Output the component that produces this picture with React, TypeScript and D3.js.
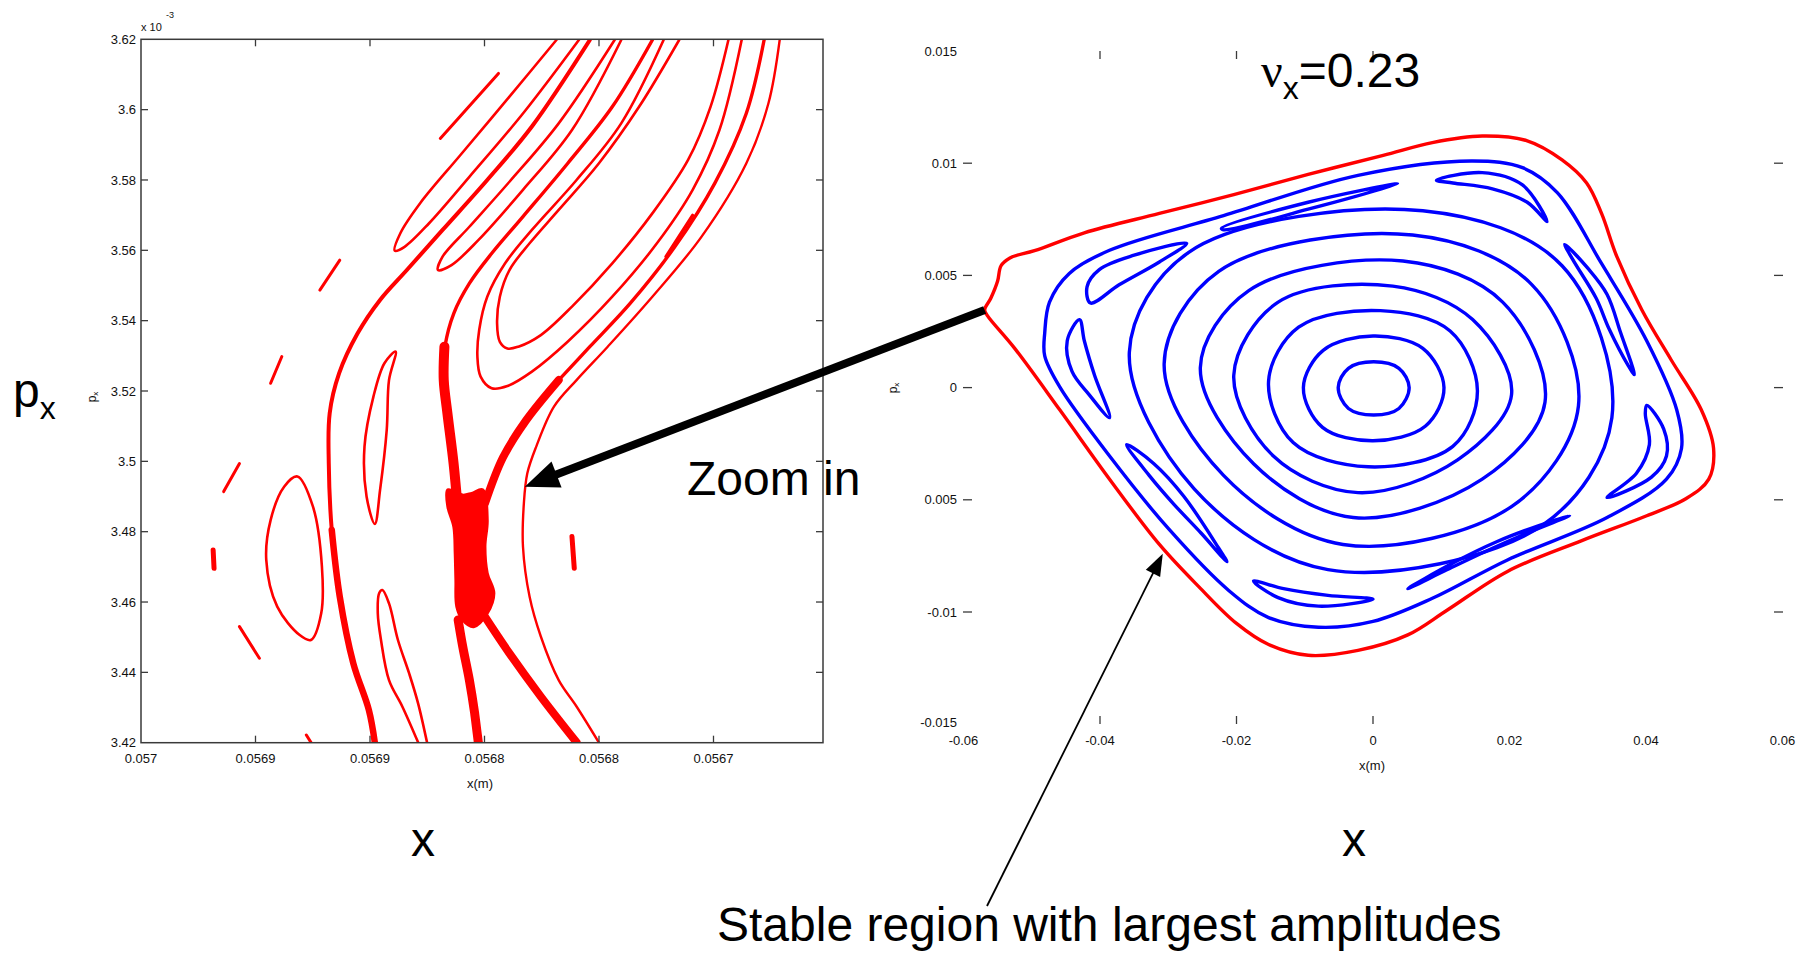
import React from "react";
import * as d3 from "d3";

type Pt = [number, number];

const W = 1814;
const H = 954;

// ---------- Left panel: magnified section of the phase space ----------
// x in mm, p_x in units of 1e-3
const zoomXTicks = [57.0, 56.95, 56.9, 56.85, 56.8, 56.75];
const zoomXTickLabels = ["0.057", "0.0569", "0.0569", "0.0568", "0.0568", "0.0567"];
const zoomYTicks = [3.62, 3.6, 3.58, 3.56, 3.54, 3.52, 3.5, 3.48, 3.46, 3.44, 3.42];
const zoomYTickLabels = ["3.62", "3.6", "3.58", "3.56", "3.54", "3.52", "3.5", "3.48", "3.46", "3.44", "3.42"];

// short island fragments
const fragA: Pt[] = [[56.8693, 3.5918], [56.8566, 3.601], [56.8439, 3.6103]];
const fragB: Pt[] = [[56.9219, 3.5487], [56.9132, 3.5572]];
const fragC: Pt[] = [[56.9434, 3.5222], [56.9385, 3.5298]];
const fragD: Pt[] = [[56.7708, 3.5582], [56.7591, 3.57]];
const fragE: Pt[] = [[56.9639, 3.4914], [56.957, 3.4994]];
const fragF: Pt[] = [[56.9685, 3.4748], [56.9681, 3.4696]];
const fragG: Pt[] = [[56.957, 3.453], [56.9483, 3.444]];
const fragH: Pt[] = [[56.9278, 3.4222], [56.9258, 3.4201]];
const fragI: Pt[] = [[56.8118, 3.4786], [56.8108, 3.4696]];

// folded lobes of the manifolds
const lobe1: Pt[] = [
  [56.8186, 3.6198], [56.8391, 3.6037], [56.8605, 3.5871], [56.8781, 3.5734], [56.8868, 3.5648],
  [56.8892, 3.5599], [56.8849, 3.561], [56.8742, 3.5677], [56.8566, 3.5809], [56.8332, 3.5989], [56.8088, 3.6198],
];
const lobe2: Pt[] = [
  [56.7932, 3.6198], [56.8176, 3.5961], [56.8391, 3.5795], [56.8566, 3.5667], [56.8683, 3.5582],
  [56.8703, 3.5544], [56.8644, 3.5558], [56.8527, 3.5629], [56.8332, 3.5772], [56.8118, 3.5942], [56.7903, 3.6198],
];
const lobe3: Pt[] = [
  [56.765, 3.6198], [56.7825, 3.6008], [56.8001, 3.5847], [56.8176, 3.5715], [56.8303, 3.562], [56.8391, 3.5544],
  [56.8433, 3.5468], [56.8445, 3.5392], [56.8433, 3.534], [56.84, 3.5321], [56.8352, 3.5326], [56.8254, 3.5359],
  [56.8118, 3.544], [56.7942, 3.5563], [56.7767, 3.5705], [56.7611, 3.5857], [56.7513, 3.6008], [56.7435, 3.6198],
];
const lobe4: Pt[] = [
  [56.7718, 3.6198], [56.7903, 3.5961], [56.8098, 3.58], [56.8293, 3.5658], [56.841, 3.5563], [56.8488, 3.5468],
  [56.8523, 3.5374], [56.8531, 3.5298], [56.8517, 3.5241], [56.8469, 3.5208], [56.84, 3.5214], [56.8293, 3.5255],
  [56.8137, 3.534], [56.7942, 3.5468], [56.7747, 3.562], [56.7591, 3.5772], [56.7474, 3.5942], [56.7377, 3.6198],
];

// left branch of the separatrix
const sepLeft: Pt[] = [
  [56.8979, 3.4201], [56.9005, 3.4293], [56.9073, 3.4426], [56.9132, 3.4615], [56.9167, 3.4805], [56.918, 3.4994],
  [56.9176, 3.5137], [56.9135, 3.525], [56.9054, 3.5364], [56.8956, 3.5459], [56.8839, 3.5544], [56.8683, 3.5658],
  [56.8488, 3.58], [56.8293, 3.5952], [56.804, 3.6198],
];
// right orbit passing the hyperbolic point
const sepRight: Pt[] = [
  [56.8001, 3.4201], [56.8098, 3.4303], [56.8176, 3.4378], [56.8254, 3.4502], [56.8303, 3.4615], [56.8332, 3.4758],
  [56.8328, 3.4881], [56.8313, 3.4966], [56.8274, 3.5042], [56.8196, 3.5156], [56.8098, 3.5231], [56.7962, 3.5326],
  [56.7767, 3.5468], [56.7552, 3.5639], [56.7357, 3.5847], [56.726, 3.6018], [56.7211, 3.6198],
];

// arms of the chaotic layer around the hyperbolic point
const armUpperLeftInner: Pt[] = [[56.8615, 3.4852], [56.8635, 3.4994], [56.8662, 3.5137], [56.8678, 3.5231], [56.8675, 3.5326]];
const armUpperLeftOuter: Pt[] = [
  [56.8683, 3.5231], [56.8673, 3.5326], [56.8634, 3.5421], [56.8566, 3.5506], [56.8469, 3.5591],
  [56.8332, 3.5696], [56.8137, 3.5847], [56.7942, 3.6008], [56.7767, 3.6198],
];
const armUpperRightInner: Pt[] = [[56.8498, 3.488], [56.842, 3.501], [56.832, 3.5115], [56.8176, 3.5231]];
const armUpperRightOuter: Pt[] = [
  [56.8176, 3.5231], [56.804, 3.5326], [56.7864, 3.5449], [56.7669, 3.561], [56.7494, 3.5791], [56.7357, 3.5989], [56.7279, 3.6198],
];
const armLowerLeft: Pt[] = [[56.8615, 3.4549], [56.8595, 3.4473], [56.8566, 3.4378], [56.8543, 3.4284], [56.8527, 3.4201]];
const armLowerRight: Pt[] = [[56.8508, 3.4568], [56.8391, 3.4454], [56.8254, 3.4331], [56.8098, 3.4201]];
const chaoticCore: Pt[] = [
  [56.866, 3.4919], [56.8595, 3.4904], [56.8556, 3.4909], [56.8508, 3.4919], [56.8488, 3.4833], [56.8498, 3.4758],
  [56.8488, 3.4682], [56.8459, 3.4625], [56.8488, 3.4568], [56.8547, 3.453], [56.8595, 3.4549], [56.8621, 3.4587],
  [56.8625, 3.4663], [56.8628, 3.4739], [56.8634, 3.4814], [56.866, 3.4871],
];

// closed islands and the lower arch
const islandOval: Pt[] = [
  [56.9317, 3.4957], [56.9249, 3.4871], [56.921, 3.4701], [56.9213, 3.4568], [56.9258, 3.4492],
  [56.9307, 3.4506], [56.9405, 3.4587], [56.9453, 3.472], [56.9434, 3.4833], [56.9375, 3.4928],
];
const islandThin: Pt[] = [
  [56.8888, 3.5312], [56.8917, 3.5231], [56.8927, 3.5089], [56.8956, 3.4919], [56.8979, 3.4822],
  [56.9015, 3.49], [56.9024, 3.5042], [56.8985, 3.5184], [56.8937, 3.5279],
];
const lowerArch: Pt[] = [
  [56.879, 3.4201], [56.8859, 3.4303], [56.8917, 3.4378], [56.8952, 3.4492], [56.8966, 3.4568], [56.896, 3.4625],
  [56.8946, 3.4634], [56.8917, 3.4596], [56.8878, 3.4492], [56.8829, 3.4397], [56.879, 3.4312], [56.8751, 3.4201],
];

// ---------- Right panel: full phase space, nu_x = 0.23 ----------
// x in mm, p_x in mrad
const phaseXTicks = [-60, -40, -20, 0, 20, 40, 60];
const phaseXTickLabels = ["-0.06", "-0.04", "-0.02", "0", "0.02", "0.04", "0.06"];
const phaseYTicks = [15, 10, 5, 0, -5, -10, -15];
const phaseYTickLabels = ["0.015", "0.01", "0.005", "0", "0.005", "-0.01", "-0.015"];
const phaseYMarks = [10, 5, 0, -5, -10];
const phaseXMarks = [-40, -20, 0];

const lastStable: Pt[] = [
  [-56.9, 3.46], [-56.0, 3.98], [-55.0, 4.75], [-54.5, 5.43], [-53.2, 5.78], [-49.6, 6.1], [-42.3, 6.9],
  [-31.3, 7.76], [-20.4, 8.6], [-9.5, 9.5], [1.5, 10.35], [8.7, 10.92], [16.0, 11.21], [22.6, 11.0],
  [27.7, 10.15], [31.3, 9.12], [33.5, 7.75], [35.7, 5.86], [39.4, 3.46], [43.7, 1.23], [48.1, -0.99],
  [49.9, -2.71], [49.2, -4.08], [45.9, -4.94], [40.1, -5.71], [30.6, -6.82], [19.7, -8.19], [10.9, -9.91],
  [5.1, -11.02], [-2.2, -11.71], [-9.5, -11.93], [-15.3, -11.45], [-20.0, -10.51], [-25.5, -8.88],
  [-31.3, -6.99], [-38.6, -4.08], [-45.9, -0.99], [-52.5, 1.75], [-56.5, 3.21],
];

const orbit1: Pt[] = [[5.3, 0.0], [3.8, 0.86], [0.1, 1.15], [-3.6, 0.86], [-5.1, 0.0], [-3.6, -0.93], [0.1, -1.22], [3.8, -0.93]];
const orbit2: Pt[] = [[10.4, 0.0], [7.3, 1.75], [0.0, 2.3], [-7.3, 1.66], [-10.2, 0.0], [-7.4, -1.77], [0.0, -2.37], [7.7, -1.71]];
const orbit3: Pt[] = [[15.3, -0.14], [11.3, 2.52], [1.1, 3.43], [-10.9, 2.69], [-15.3, 0.29], [-11.7, -2.45], [-0.7, -3.53], [11.7, -2.62]];
const orbit4: Pt[] = [[20.3, -0.31], [14.6, 3.03], [2.9, 4.52], [-13.9, 3.81], [-20.4, 0.55], [-14.6, -3.05], [-2.2, -4.68], [12.4, -3.22]];
const orbit5: Pt[] = [[25.2, -0.65], [19.0, 3.81], [4.4, 5.64], [-18.2, 4.32], [-25.3, 0.89], [-17.5, -3.39], [-2.9, -5.79], [16.0, -4.08]];
const orbit6: Pt[] = [[30.1, -0.82], [23.3, 4.58], [5.8, 6.8], [-22.6, 5.18], [-30.6, 1.06], [-21.9, -3.91], [-4.4, -6.99], [20.4, -5.28]];
const orbit7: Pt[] = [[35.0, -1.34], [27.7, 5.43], [7.3, 7.88], [-27.0, 6.03], [-35.7, 1.58], [-26.2, -4.51], [-6.6, -8.11], [24.8, -6.14]];
const orbit8: Pt[] = [
  [-48.1, 2.43], [-47.4, 3.81], [-44.5, 5.09], [-38.6, 6.12], [-21.9, 7.66], [-2.2, 9.46], [14.6, 10.1],
  [21.9, 9.8], [27.0, 8.69], [33.5, 5.52], [40.1, 2.09], [44.5, -0.99], [45.2, -2.71], [43.0, -4.08],
  [34.3, -5.79], [19.7, -7.68], [8.7, -9.39], [0.0, -10.42], [-8.0, -10.68], [-15.3, -10.25],
  [-21.1, -9.05], [-29.9, -6.31], [-38.6, -3.05], [-45.9, 0.03], [-48.1, 1.41],
];

// resonance islands
const res1: Pt[] = [[-27.3, 6.43], [-35.0, 5.9], [-40.1, 5.26], [-41.9, 4.49], [-41.4, 3.77], [-37.2, 4.58], [-31.3, 5.6]];
const res2: Pt[] = [[-22.2, 7.1], [-9.5, 8.26], [3.6, 9.08], [-9.5, 7.95], [-21.9, 7.03]];
const res3: Pt[] = [[9.3, 9.24], [16.0, 9.58], [21.9, 9.03], [25.5, 7.4], [22.6, 8.26], [17.5, 8.86], [11.7, 9.12]];
const res4: Pt[] = [[28.1, 6.38], [31.5, 5.31], [34.3, 4.15], [36.3, 2.43], [38.3, 0.58], [37.4, 0.98], [34.6, 2.61], [32.7, 3.98], [29.3, 5.69]];
const res5: Pt[] = [[40.1, -0.79], [42.6, -1.85], [43.0, -3.05], [40.8, -3.99], [34.3, -4.9], [38.6, -3.82], [40.5, -2.54], [39.9, -1.17]];
const res6: Pt[] = [[28.8, -5.71], [23.3, -6.39], [17.5, -7.16], [10.9, -8.11], [5.1, -8.96], [11.7, -7.82], [18.2, -6.86], [24.1, -6.17]];
const res7: Pt[] = [[-17.5, -8.62], [-13.9, -9.36], [-8.0, -9.74], [0.0, -9.43], [-6.6, -9.26], [-13.1, -8.96]];
const res8: Pt[] = [[-36.1, -2.54], [-32.8, -3.91], [-29.2, -5.19], [-25.2, -6.48], [-21.4, -7.76], [-22.6, -7.16], [-27.7, -4.85], [-32.1, -3.39]];
const res9: Pt[] = [[-43.0, 3.03], [-44.8, 2.09], [-44.1, 0.72], [-41.6, -0.31], [-38.6, -1.34], [-40.8, 0.55], [-42.3, 2.09]];

// annotation anchors
const zoomArrowTip: Pt = [56.8324, 3.4928];
const stableArrowTip: Pt = [-30.8, -7.4];

const FONT = "'Liberation Sans', Arial, Helvetica, sans-serif";

function Arrow({ x1, y1, x2, y2, width, headLen, headHalf }: { x1: number; y1: number; x2: number; y2: number; width: number; headLen: number; headHalf: number }) {
  const dx = x2 - x1;
  const dy = y2 - y1;
  const len = Math.hypot(dx, dy);
  const ux = dx / len;
  const uy = dy / len;
  const nx = -uy;
  const ny = ux;
  const bx = x2 - ux * headLen;
  const by = y2 - uy * headLen;
  const lx = x2 - ux * (headLen * 0.85);
  const ly = y2 - uy * (headLen * 0.85);
  return (
    <g>
      <line x1={x1} y1={y1} x2={lx} y2={ly} stroke="#000" strokeWidth={width} />
      <polygon
        points={`${x2},${y2} ${bx + nx * headHalf},${by + ny * headHalf} ${bx - nx * headHalf},${by - ny * headHalf}`}
        fill="#000"
      />
    </g>
  );
}

export default function App() {
  // left panel scales
  const zx = d3.scaleLinear().domain([57.0, 56.70218]).range([141, 823]);
  const zy = d3.scaleLinear().domain([3.42, 3.62]).range([742.7, 39.3]);
  const zOpen = d3.line<Pt>().x((d) => zx(d[0])).y((d) => zy(d[1])).curve(d3.curveCatmullRom.alpha(0.5));
  const zClosed = d3.line<Pt>().x((d) => zx(d[0])).y((d) => zy(d[1])).curve(d3.curveCatmullRomClosed.alpha(0.5));

  // right panel scales
  const px = d3.scaleLinear().domain([-60, 60]).range([963.5, 1782.5]);
  const py = d3.scaleLinear().domain([-15, 15]).range([724.2, 51]);
  const pClosed = d3.line<Pt>().x((d) => px(d[0])).y((d) => py(d[1])).curve(d3.curveCatmullRomClosed.alpha(0.5));

  const zoomOpen: { d: Pt[]; w: number }[] = [
    { d: fragA, w: 3 }, { d: fragB, w: 3 }, { d: fragC, w: 3 }, { d: fragD, w: 3 }, { d: fragE, w: 3 },
    { d: fragF, w: 5 }, { d: fragG, w: 3 }, { d: fragH, w: 3 }, { d: fragI, w: 5 },
    { d: lobe1, w: 2.6 }, { d: lobe2, w: 2.6 }, { d: lobe3, w: 2.6 }, { d: lobe4, w: 2.6 },
    { d: sepLeft, w: 4 }, { d: sepLeft.slice(0, 5), w: 6.5 }, { d: sepRight, w: 2.4 },
    { d: armUpperLeftOuter, w: 3.4 }, { d: armUpperLeftInner, w: 10 },
    { d: armUpperRightOuter, w: 3.4 }, { d: armUpperRightInner, w: 8 },
    { d: armLowerLeft, w: 9 }, { d: armLowerRight, w: 8 },
    { d: lowerArch, w: 2.6 },
  ];
  const zoomClosed: Pt[][] = [islandOval, islandThin];

  const blueOrbits: Pt[][] = [orbit1, orbit2, orbit3, orbit4, orbit5, orbit6, orbit7, orbit8, res1, res2, res3, res4, res5, res6, res7, res8, res9];

  const tail: Pt = lastStable[0];
  const axisGray = "#3a3a3a";

  return (
    <svg width={W} height={H} viewBox={`0 0 ${W} ${H}`} style={{ position: "absolute", left: 0, top: 0, background: "#fff" }} fontFamily={FONT}>
      <rect x={0} y={0} width={W} height={H} fill="#fff" />

      {/* ---------- left panel ---------- */}
      <defs>
        <clipPath id="zoomClip">
          <rect x={141} y={39.3} width={682} height={703.4} />
        </clipPath>
      </defs>
      <g clipPath="url(#zoomClip)" fill="none" stroke="#ff0000" strokeLinecap="round" strokeLinejoin="round">
        {zoomOpen.map((c, i) => (
          <path key={`zo${i}`} d={zOpen(c.d) ?? ""} strokeWidth={c.w} />
        ))}
        {zoomClosed.map((c, i) => (
          <path key={`zc${i}`} d={zClosed(c) ?? ""} strokeWidth={2.6} />
        ))}
        <path d={zClosed(chaoticCore) ?? ""} fill="#ff0000" strokeWidth={3} />
      </g>
      <rect x={141} y={39.3} width={682} height={703.4} fill="none" stroke={axisGray} strokeWidth={1.5} />
      {zoomXTicks.map((t, i) => (
        <g key={`zxt${i}`}>
          {i > 0 && (
            <>
              <line x1={zx(t)} x2={zx(t)} y1={742.7} y2={735.7} stroke={axisGray} strokeWidth={1.3} />
              <line x1={zx(t)} x2={zx(t)} y1={39.3} y2={46.3} stroke={axisGray} strokeWidth={1.3} />
            </>
          )}
          <text x={zx(t)} y={763} textAnchor="middle" fontSize={13} fill="#111">{zoomXTickLabels[i]}</text>
        </g>
      ))}
      {zoomYTicks.map((t, i) => (
        <g key={`zyt${i}`}>
          {i > 0 && i < zoomYTicks.length - 1 && (
            <>
              <line x1={141} x2={148} y1={zy(t)} y2={zy(t)} stroke={axisGray} strokeWidth={1.3} />
              <line x1={823} x2={816} y1={zy(t)} y2={zy(t)} stroke={axisGray} strokeWidth={1.3} />
            </>
          )}
          <text x={136} y={zy(t)} dy="0.35em" textAnchor="end" fontSize={13} fill="#111">{zoomYTickLabels[i]}</text>
        </g>
      ))}
      <text x={141} y={31} fontSize={11} fill="#111">x 10</text>
      <text x={166} y={18} fontSize={9} fill="#111">-3</text>
      <text x={480} y={788} textAnchor="middle" fontSize={13} fill="#111">x(m)</text>
      <text transform="translate(96,397) rotate(-90)" textAnchor="middle" fontSize={12} fill="#111">
        p<tspan fontSize={8} dy={2}>x</tspan>
      </text>

      {/* ---------- right panel ---------- */}
      <path d={pClosed(lastStable) ?? ""} fill="none" stroke="#ff0000" strokeWidth={3.4} strokeLinejoin="round" />
      <g fill="none" stroke="#0000ff" strokeWidth={3.4} strokeLinejoin="round">
        {blueOrbits.map((o, i) => (
          <path key={`bo${i}`} d={pClosed(o) ?? ""} />
        ))}
      </g>
      {phaseYMarks.map((t, i) => (
        <g key={`pym${i}`}>
          <line x1={963} x2={972} y1={py(t)} y2={py(t)} stroke={axisGray} strokeWidth={1.3} />
          <line x1={1774} x2={1783} y1={py(t)} y2={py(t)} stroke={axisGray} strokeWidth={1.3} />
        </g>
      ))}
      {phaseXMarks.map((t, i) => (
        <g key={`pxm${i}`}>
          <line x1={px(t)} x2={px(t)} y1={51} y2={59} stroke={axisGray} strokeWidth={1.3} />
          <line x1={px(t)} x2={px(t)} y1={716} y2={724} stroke={axisGray} strokeWidth={1.3} />
        </g>
      ))}
      {phaseYTicks.map((t, i) => (
        <text key={`pyl${i}`} x={957} y={py(t) + (i === phaseYTicks.length - 1 ? -2 : 0)} dy="0.35em" textAnchor="end" fontSize={13} fill="#111">
          {phaseYTickLabels[i]}
        </text>
      ))}
      {phaseXTicks.map((t, i) => (
        <text key={`pxl${i}`} x={px(t)} y={745} textAnchor="middle" fontSize={13} fill="#111">
          {phaseXTickLabels[i]}
        </text>
      ))}
      <text x={1372} y={770} textAnchor="middle" fontSize={13} fill="#111">x(m)</text>
      <text transform="translate(897,388) rotate(-90)" textAnchor="middle" fontSize={12} fill="#111">
        p<tspan fontSize={8} dy={2}>x</tspan>
      </text>

      {/* ---------- annotations ---------- */}
      <Arrow
        x1={px(tail[0])}
        y1={py(tail[1])}
        x2={zx(zoomArrowTip[0])}
        y2={zy(zoomArrowTip[1])}
        width={8}
        headLen={34}
        headHalf={14}
      />
      <Arrow x1={987} y1={906} x2={px(stableArrowTip[0])} y2={py(stableArrowTip[1])} width={1.8} headLen={22} headHalf={8} />

      <text x={13} y={407} fontSize={48} fill="#000">
        p<tspan fontSize={32} dy={12}>x</tspan>
      </text>
      <text x={687} y={495} fontSize={48} fill="#000">Zoom in</text>
      <text x={423} y={856} textAnchor="middle" fontSize={48} fill="#000">x</text>
      <text x={1354} y={856} textAnchor="middle" fontSize={48} fill="#000">x</text>
      <text x={1261} y={87} fontSize={48} fill="#000">
        <tspan fontFamily="'Liberation Serif', 'Times New Roman', serif">ν</tspan>
        <tspan fontSize={32} dy={12}>x</tspan>
        <tspan dy={-12}>=0.23</tspan>
      </text>
      <text x={717} y={941} fontSize={48} fill="#000">Stable region with largest amplitudes</text>
    </svg>
  );
}
